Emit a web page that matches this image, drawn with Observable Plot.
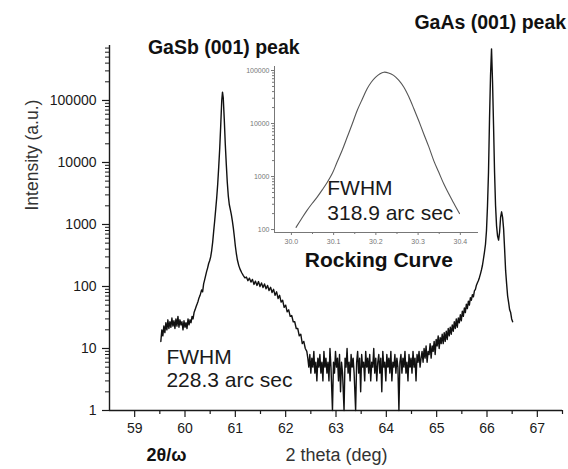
<!DOCTYPE html>
<html><head><meta charset="utf-8">
<script src="https://cdn.jsdelivr.net/npm/d3@7"></script>
<script src="https://cdn.jsdelivr.net/npm/@observablehq/plot@0.6"></script>
<style>
body{margin:0;background:#fff;}
#wrap{position:relative;width:568px;height:469px;overflow:hidden;}
#main{position:absolute;left:0;top:0;}
#inset{position:absolute;left:230px;top:56px;}
svg{font-family:"Liberation Sans",Arial,sans-serif;}
</style></head><body>
<div id="wrap"><div id="main"></div><div id="inset"></div></div>
<script>
// ---- data: 2θ/ω scan [2theta (deg), intensity] ----
const mainScan = [
[59.52,13],[59.54,20],[59.56,16],[59.58,23],[59.60,18],[59.62,26],[59.64,20],[59.66,29],[59.68,21],[59.70,27],
[59.72,22],[59.74,31],[59.76,23],[59.78,28],[59.80,21],[59.82,30],[59.84,23],[59.86,33],[59.88,22],[59.90,29],
[59.92,24],[59.94,27],[59.96,20],[59.98,28],[60.00,22],[60.02,26],[60.04,21],[60.06,30],[60.08,24],[60.10,29],
[60.12,26],[60.14,33],[60.16,30],[60.18,38],[60.20,42],[60.22,47],[60.24,52],[60.26,58],[60.28,66],[60.30,72],
[60.33,88],[60.35,82],[60.37,110],[60.39,128],[60.41,150],[60.43,175],[60.45,200],[60.47,235],[60.49,260],[60.51,300],
[60.53,380],[60.55,520],[60.57,780],[60.59,1150],[60.61,1750],[60.63,2700],[60.65,4500],[60.67,8500],[60.69,17000],[60.71,40000],
[60.73,100000],[60.745,136000],[60.76,110000],[60.78,50000],[60.80,20000],[60.82,9500],[60.84,4800],[60.86,2900],[60.88,2100],[60.90,1750],
[60.92,1450],[60.94,1150],[60.96,880],[60.98,640],[61.00,450],[61.02,340],[61.04,270],[61.07,215],[61.10,185],[61.13,165],
[61.16,150],[61.19,138],[61.22,142],[61.25,124],[61.28,136],[61.31,118],[61.34,130],[61.37,108],[61.40,122],[61.43,104],
[61.46,120],[61.49,100],[61.52,114],[61.55,96],[61.58,110],[61.61,92],[61.64,104],[61.67,86],[61.70,97],[61.73,80],
[61.76,90],[61.79,72],[61.82,82],[61.85,64],[61.88,72],[61.91,56],[61.94,60],[61.97,46],[62.00,50],[62.03,39],
[62.06,42],[62.09,33],[62.12,34],[62.15,27],[62.18,27],[62.21,21],[62.24,21],[62.27,16],[62.30,17],[62.33,12],
[62.36,13],[62.39,10],[62.42,9],
[62.44,7],[62.46,5],[62.48,8],[62.50,4],[62.52,7],[62.54,5],[62.56,9],[62.58,4],[62.60,6],[62.62,3],
[62.64,7],[62.66,5],[62.68,8],[62.70,4],[62.72,6],[62.74,3],[62.76,9],[62.78,5],[62.80,7],[62.82,4],
[62.84,6],[62.86,3],[62.88,10],[62.90,5],[62.93,1],[62.95,6],[62.97,4],[62.99,9],[63.01,5],[63.03,7],
[63.05,3],[63.07,8],[63.09,2],[63.11,6],[63.13,4],[63.16,1],[63.18,7],[63.20,5],[63.22,10],[63.24,4],
[63.26,6],[63.28,3],[63.30,8],[63.32,5],[63.34,7],[63.36,4],[63.39,1],[63.41,6],[63.43,9],[63.45,4],
[63.47,7],[63.49,2],[63.51,8],[63.53,5],[63.55,6],[63.57,3],[63.59,9],[63.61,5],[63.63,7],[63.65,4],
[63.67,8],[63.69,3],[63.71,6],[63.73,5],[63.75,10],[63.77,4],[63.79,7],[63.81,3],[63.83,6],[63.85,8],
[63.87,4],[63.89,7],[63.91,2],[63.93,9],[63.95,5],[63.97,6],[63.99,3],[64.01,8],[64.03,5],[64.05,7],
[64.07,4],[64.09,9],[64.11,3],[64.13,6],[64.15,5],[64.17,8],[64.19,4],[64.21,7],[64.23,5],[64.25,1],
[64.27,6],[64.29,8],[64.31,4],[64.33,7],[64.35,5],[64.37,9],[64.39,4],[64.41,6],[64.43,3],[64.45,8],
[64.47,5],[64.49,7],[64.51,4],[64.53,9],[64.55,5],[64.57,7],[64.59,3],[64.61,8],[64.63,6],[64.65,9],
[64.67,5],[64.69,7],[64.71,9],[64.73,6],[64.75,10],[64.77,7],[64.79,11],[64.81,6],[64.83,9],[64.85,8],
[64.87,12],[64.89,7],[64.91,11],[64.93,9],[64.95,13],[64.97,8],[64.99,14],[65.01,11],[65.03,16],[65.05,10],
[65.07,15],[65.09,12],[65.11,17],[65.13,12],[65.15,18],[65.17,13],[65.19,19],[65.21,14],[65.23,21],[65.25,16],
[65.27,22],[65.29,17],[65.31,24],[65.33,19],[65.35,27],[65.37,21],[65.39,30],[65.41,22],[65.43,31],[65.45,26],
[65.47,35],[65.49,28],[65.51,40],[65.53,33],[65.55,45],[65.57,38],[65.59,52],[65.61,44],[65.63,58],[65.65,50],
[65.67,66],[65.69,60],[65.71,74],[65.73,68],[65.75,85],[65.77,90],[65.79,105],[65.81,115],[65.83,125],[65.85,140],
[65.87,160],[65.89,185],[65.91,220],[65.93,280],[65.95,360],[65.97,480],[65.99,800],[66.01,2000],[66.03,7000],[66.05,50000],
[66.07,250000],[66.09,680000],[66.11,200000],[66.13,40000],[66.15,7000],[66.17,2000],[66.19,950],[66.21,650],[66.23,560],[66.25,750],
[66.27,1300],[66.29,1600],[66.31,1300],[66.33,850],[66.35,400],[66.37,180],[66.39,110],[66.41,70],[66.43,55],[66.45,42],
[66.47,38],[66.49,30],[66.51,27]
];
// ---- data: rocking curve [omega (deg), intensity] ----
const rockingCurve = [
[30.011,110],[30.024,160],[30.037,230],[30.049,310],[30.061,410],[30.073,560],[30.085,780],[30.097,1150],[30.108,1860],[30.120,3100],
[30.132,5500],[30.144,9800],[30.156,17800],[30.168,29000],[30.179,44700],[30.189,60000],[30.199,74000],[30.209,86000],[30.219,93000],[30.230,90000],
[30.242,81000],[30.254,66000],[30.266,49000],[30.278,32000],[30.290,19000],[30.302,11000],[30.313,6500],[30.325,3700],[30.337,2000],[30.349,1200],
[30.361,720],[30.371,500],[30.381,355],[30.390,260],[30.398,200]
];
const xMajorTicks = [59,60,61,62,63,64,65,66,67];
const xMinorTicks = [59.5,60.5,61.5,62.5,63.5,64.5,65.5,66.5,67.5];
const yMajorTicks = [1,10,100,1000,10000,100000];
const insetXTicks = [30.0,30.1,30.2,30.3,30.4];
const insetXMinor = [30.05,30.15,30.25,30.35];
const insetYTicks = [100,1000,10000,100000];
const peakLabels = ["GaSb (001) peak","GaAs (001) peak"];
const fwhmMain = ["FWHM","228.3 arc sec"];
const fwhmInset = ["FWHM","318.9 arc sec"];
const xTitle = "2 theta (deg)", scanTitle = "2θ/ω", yTitle = "Intensity (a.u.)", insetTitle = "Rocking Curve";

const FONT = '"Liberation Sans", Arial, sans-serif';
const logMinor = (majors, lo, hi) => majors.flatMap(d => [2,3,4,5,6,7,8,9].map(k => k * d)).filter(v => v >= lo && v <= hi);
const fmt = d => String(d);

const X0 = 58.5, X1 = 67.5, Y0 = 1, Y1 = 7.7e5;
const main = Plot.plot({
  width: 568, height: 469,
  marginLeft: 109, marginRight: 6, marginTop: 45, marginBottom: 59,
  style: {fontFamily: FONT, background: "transparent", overflow: "visible", maxWidth: "none"},
  x: {domain: [X0, X1]},
  y: {type: "log", domain: [Y0, Y1]},
  marks: [
    Plot.axisX({ticks: xMajorTicks, tickSize: 7, tickPadding: 6, tickFormat: fmt, fontSize: 14, color: "#1a1a1a", strokeWidth: 1.2, label: null}),
    Plot.axisX({ticks: xMinorTicks, tickSize: 4, tickFormat: () => "", color: "#1a1a1a", strokeWidth: 1.2, label: null}),
    Plot.axisY({ticks: yMajorTicks, tickSize: 7, tickPadding: 6, tickFormat: fmt, fontSize: 14, color: "#1a1a1a", strokeWidth: 1.2, label: null}),
    Plot.axisY({ticks: logMinor(yMajorTicks, Y0, Y1), tickSize: 4, tickFormat: () => "", color: "#1a1a1a", strokeWidth: 1, label: null}),
    Plot.ruleY([Y0], {stroke: "#1a1a1a", strokeWidth: 1.4}),
    Plot.ruleX([X0], {stroke: "#1a1a1a", strokeWidth: 1.4}),
    Plot.line(mainScan, {x: d => d[0], y: d => d[1], stroke: "#111", strokeWidth: 1.4}),
    Plot.text([peakLabels[0]], {x: 60.77, y: 7.16e5, fontSize: 19.5, fontWeight: "bold", fill: "#111"}),
    Plot.text([peakLabels[1]], {x: 66.065, y: 1.81e6, fontSize: 19.5, fontWeight: "bold", fill: "#111"}),
    Plot.text(fwhmMain, {x: 59.63, y: [7.2, 3.05], textAnchor: "start", fontSize: 21, fill: "#1a1a1a"}),
    Plot.text([scanTitle], {x: 59.633, frameAnchor: "bottom", dy: 50, fontSize: 18, fontWeight: "bold", fill: "#111"}),
    Plot.text([xTitle], {x: 63.01, frameAnchor: "bottom", dy: 50, fontSize: 18, fill: "#333"}),
    Plot.text([yTitle], {y: 1680, frameAnchor: "left", dx: -77, rotate: -90, fontSize: 17.5, fill: "#333"})
  ]
});
document.getElementById("main").appendChild(main);

const IX0 = 29.96, IX1 = 30.443, IY0 = 88, IY1 = 119000;
const inset = Plot.plot({
  width: 254, height: 224,
  marginLeft: 44, marginRight: 6, marginTop: 10, marginBottom: 48,
  style: {fontFamily: FONT, background: "transparent", overflow: "visible", maxWidth: "none"},
  x: {domain: [IX0, IX1]},
  y: {type: "log", domain: [IY0, IY1]},
  marks: [
    Plot.axisX({ticks: insetXTicks, tickSize: 3, tickPadding: 4, tickFormat: d3.format(".1f"), fontSize: 7, color: "#777", label: null}),
    Plot.axisX({ticks: insetXMinor, tickSize: 2, tickFormat: () => "", color: "#777", label: null}),
    Plot.axisY({ticks: insetYTicks, tickSize: 3, tickPadding: 2, tickFormat: fmt, fontSize: 7, color: "#777", label: null}),
    Plot.axisY({ticks: logMinor(insetYTicks, IY0, IY1), tickSize: 2, tickFormat: () => "", color: "#777", label: null}),
    Plot.ruleY([IY0], {stroke: "#777", strokeWidth: 1}),
    Plot.ruleX([IX0], {stroke: "#777", strokeWidth: 1}),
    Plot.line(rockingCurve, {x: d => d[0], y: d => d[1], stroke: "#555", strokeWidth: 1.1, curve: "catmull-rom"}),
    Plot.text(fwhmInset, {x: 30.085, y: [594, 200], textAnchor: "start", fontSize: 21, fill: "#1a1a1a"}),
    Plot.text([insetTitle], {x: 30.207, y: 26, fontSize: 21, fontWeight: "bold", fill: "#111"})
  ]
});
document.getElementById("inset").appendChild(inset);
</script>
</body></html>
